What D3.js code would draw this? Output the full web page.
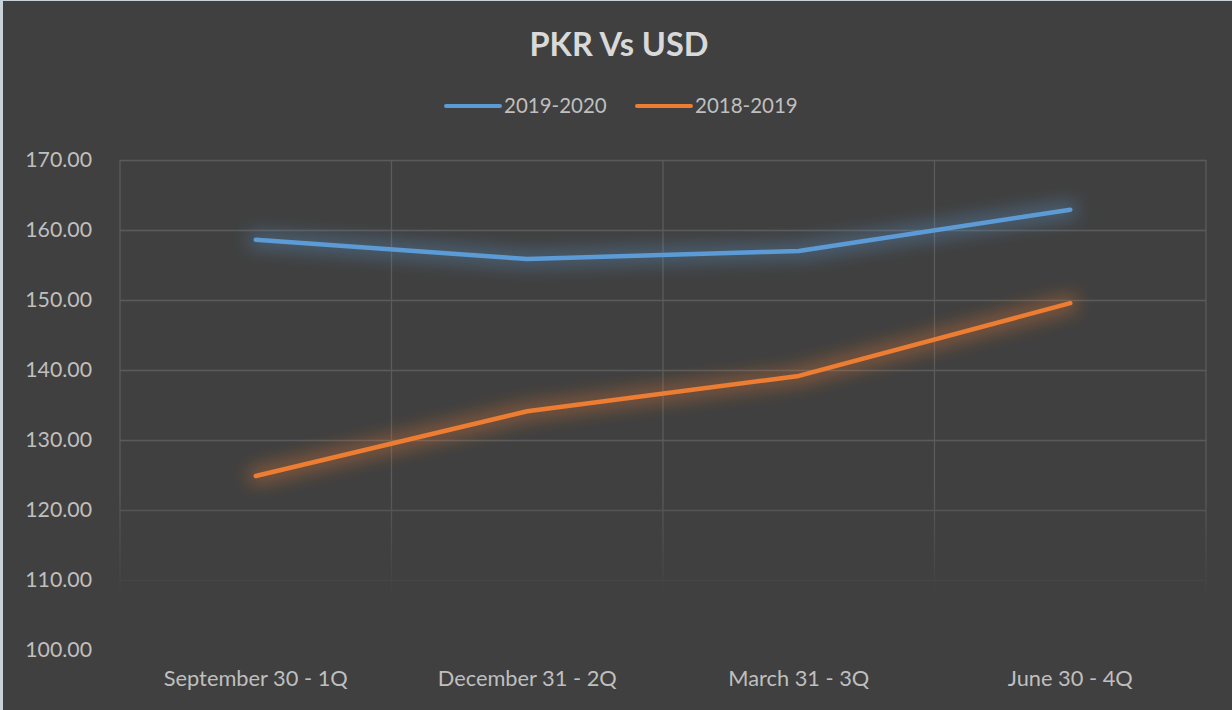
<!DOCTYPE html>
<html>
<head>
<meta charset="utf-8">
<script src="https://cdn.jsdelivr.net/npm/d3@7"></script>
<style>
  html, body { margin: 0; padding: 0; background: #404040; }
  svg { display: block; }
</style>
</head>
<body>
<svg id="chart" width="1232" height="710"></svg>
<script>
// data
const quarters = ['September 30 - 1Q', 'December 31 - 2Q', 'March 31 - 3Q', 'June 30 - 4Q'];
const fy2020 = [158.6, 155.85, 157.0, 162.9];
const fy2019 = [124.85, 134.1, 139.15, 149.55];
const seriesNames = ['2019-2020', '2018-2019'];
const seriesColors = ['#5b9bd5', '#ed7d31'];
const yTicks = [100, 110, 120, 130, 140, 150, 160, 170];

const W = 1232, H = 710;
const font = 'Lato, "Open Sans", sans-serif';
const svg = d3.select('#chart');

// background + left/top edge strip
svg.append('rect').attr('width', W).attr('height', H).attr('fill', '#404040');
svg.append('rect').attr('x', 0).attr('y', 0).attr('width', 3).attr('height', H).attr('fill', '#c9d1d9');
svg.append('rect').attr('x', 0).attr('y', 0).attr('width', W).attr('height', 1).attr('fill', '#c9d1d9');

const defs = svg.append('defs');
// fading mask for grid toward bottom
const grad = defs.append('linearGradient').attr('id', 'fade')
  .attr('gradientUnits', 'userSpaceOnUse')
  .attr('x1', 0).attr('x2', 0).attr('y1', 150).attr('y2', 600);
grad.append('stop').attr('offset', '0.75').attr('stop-color', '#fff');
grad.append('stop').attr('offset', '1').attr('stop-color', '#000');
defs.append('mask').attr('id', 'gridMask')
  .append('rect').attr('x', 0).attr('y', 0).attr('width', W).attr('height', H).attr('fill', 'url(#fade)');

// soft glow around the lines
const glow = defs.append('filter').attr('id', 'glow')
  .attr('x', '-20%').attr('y', '-80%').attr('width', '140%').attr('height', '260%');
glow.append('feMorphology').attr('in', 'SourceGraphic').attr('operator', 'dilate').attr('radius', 5).attr('result', 'd');
glow.append('feGaussianBlur').attr('in', 'd').attr('stdDeviation', 9).attr('result', 'b');
glow.append('feComponentTransfer').attr('in', 'b').attr('result', 'bf')
  .append('feFuncA').attr('type', 'linear').attr('slope', 0.4);
const merge = glow.append('feMerge');
merge.append('feMergeNode').attr('in', 'bf');
merge.append('feMergeNode').attr('in', 'SourceGraphic');

const x = d3.scaleBand(quarters, [120, 1206]).padding(0);
const y = d3.scaleLinear([100, 170], [650, 160]);

// title
svg.append('text').text('PKR Vs USD')
  .attr('x', 619).attr('y', 56).attr('text-anchor', 'middle')
  .attr('fill', '#d9d9d9').attr('font-family', font)
  .attr('font-size', 32.5).attr('font-weight', 'bold');

// grid
const grid = svg.append('g').attr('mask', 'url(#gridMask)');
grid.selectAll('line.h').data(yTicks.filter(d => d > 100)).join('line')
  .attr('x1', 120).attr('x2', 1206)
  .attr('y1', d => y(d) + 0.5).attr('y2', d => y(d) + 0.5)
  .attr('stroke', '#5b5b5b').attr('stroke-width', 1.3);
const edges = quarters.map(q => x(q)).concat([x.range()[1]]);
grid.selectAll('line.v').data(edges).join('line')
  .attr('x1', d => d).attr('x2', d => d)
  .attr('y1', y(170)).attr('y2', 600)
  .attr('stroke', '#5b5b5b').attr('stroke-width', 1.3);

// y axis labels
const yAxis = svg.append('g').attr('transform', 'translate(92,0)')
  .call(d3.axisLeft(y).tickValues(yTicks).tickFormat(d3.format('.2f')).tickSize(0).tickPadding(0));
yAxis.select('.domain').remove();
yAxis.selectAll('text').attr('fill', '#bfbfbf').attr('font-family', font).attr('font-size', 21.3);

// x axis labels
const xAxis = svg.append('g').attr('transform', 'translate(0,671)')
  .call(d3.axisBottom(x).tickSize(0).tickPadding(0));
xAxis.select('.domain').remove();
xAxis.selectAll('text').attr('fill', '#bfbfbf').attr('font-family', font).attr('font-size', 21.8);

// lines
const line = d3.line().x((d, i) => x(quarters[i]) + x.bandwidth() / 2).y(d => y(d));
[fy2020, fy2019].forEach((s, i) => {
  svg.append('path').datum(s).attr('d', line)
    .attr('fill', 'none').attr('stroke', seriesColors[i]).attr('stroke-width', 4.5)
    .attr('stroke-linecap', 'round').attr('stroke-linejoin', 'round')
    .attr('filter', 'url(#glow)');
});

// legend
const legendX = [446, 637];
seriesNames.forEach((n, i) => {
  const g = svg.append('g').attr('transform', `translate(${legendX[i]},106)`);
  g.append('line').attr('x1', 0).attr('x2', 54).attr('y1', 0).attr('y2', 0)
    .attr('stroke', seriesColors[i]).attr('stroke-width', 4).attr('stroke-linecap', 'round');
  g.append('text').text(n).attr('x', 58).attr('y', 7)
    .attr('fill', '#bfbfbf').attr('font-family', font).attr('font-size', 20.5);
});
</script>
</body>
</html>
